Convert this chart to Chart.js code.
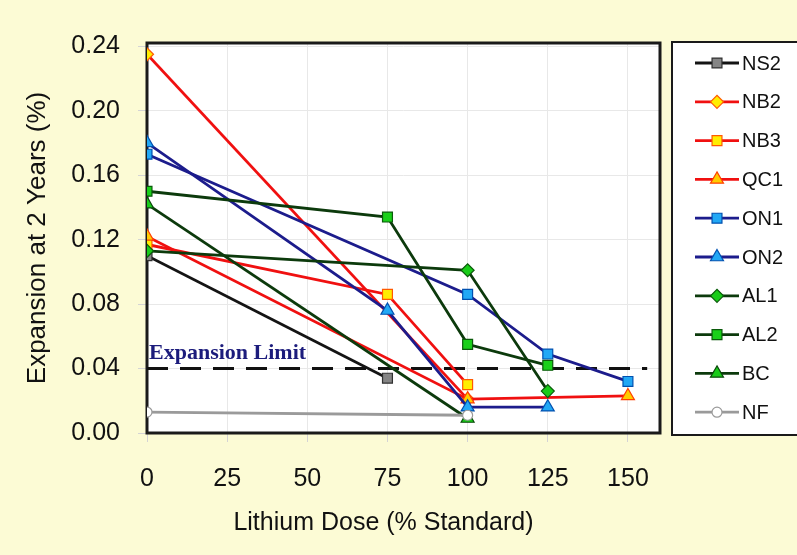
<!DOCTYPE html>
<html>
<head>
<meta charset="utf-8">
<title>Expansion at 2 Years vs Lithium Dose</title>
<script src="https://cdn.jsdelivr.net/npm/chart.js@4/dist/chart.umd.min.js"></script>
<style>
  html, body { margin: 0; padding: 0; background: #fcfbd5; }
</style>
</head>
<body>
<canvas id="myChart" width="797" height="555"></canvas>
<script>
// x tick labels (lithium dose, % of standard) and y ticks (expansion %)
const doseTicks = [0, 25, 50, 75, 100, 125, 150];
const expTicks = [0.00, 0.04, 0.08, 0.12, 0.16, 0.20, 0.24];

// aggregate names, in legend order
const aggregates = ['NS2', 'NB2', 'NB3', 'QC1', 'ON1', 'ON2', 'AL1', 'AL2', 'BC', 'NF'];

// dose tested and 2-year expansion for each aggregate
const doseNS2 = [0, 75];            const expNS2 = [0.110, 0.034];
const doseNB2 = [0, 100];           const expNB2 = [0.235, 0.021];
const doseNB3 = [0, 75, 100];       const expNB3 = [0.117, 0.086, 0.030];
const doseQC1 = [0, 100, 150];      const expQC1 = [0.122, 0.021, 0.023];
const doseON1 = [0, 100, 125, 150]; const expON1 = [0.173, 0.086, 0.049, 0.032];
const doseON2 = [0, 75, 100, 125];  const expON2 = [0.180, 0.076, 0.016, 0.016];
const doseAL1 = [0, 100, 125];      const expAL1 = [0.113, 0.101, 0.026];
const doseAL2 = [0, 75, 100, 125];  const expAL2 = [0.150, 0.134, 0.055, 0.042];
const doseBC = [0, 100];            const expBC = [0.142, 0.009];
const doseNF = [0, 100];            const expNF = [0.013, 0.011];

// expansion limit line
const limitValue = 0.04;
const limitDose = [0, 156];

const doses = [doseNS2, doseNB2, doseNB3, doseQC1, doseON1, doseON2, doseAL1, doseAL2, doseBC, doseNF];
const expansions = [expNS2, expNB2, expNB3, expQC1, expON1, expON2, expAL1, expAL2, expBC, expNF];

// line colour, marker shape, marker fill, marker edge, marker radius
const styles = [
  ['#141414', 'rect',    '#858585', '#303030', 7],
  ['#f01010', 'rectRot', '#ffee00', '#ff5a00', 6.5],
  ['#f01010', 'rect',    '#ffee00', '#ff5a00', 7],
  ['#f01010', 'triangle','#ffcc00', '#ff4000', 7.5],
  ['#1c1c8c', 'rect',    '#22a8f5', '#0050b0', 7],
  ['#1c1c8c', 'triangle','#22a8f5', '#0050b0', 7.5],
  ['#0c3a0c', 'rectRot', '#19cc19', '#0a5a0a', 6.5],
  ['#0c3a0c', 'rect',    '#19d019', '#0a5a0a', 7],
  ['#0c3a0c', 'triangle','#19cc19', '#0a4a0a', 7.5],
  ['#9a9a9a', 'circle',  '#ffffff', '#9a9a9a', 5]
];

const datasets = aggregates.map((name, i) => ({
  label: name,
  data: doses[i].map((d, j) => ({ x: d, y: expansions[i][j] })),
  borderColor: styles[i][0],
  borderWidth: 2.8,
  pointStyle: styles[i][1],
  pointBackgroundColor: styles[i][2],
  pointBorderColor: styles[i][3],
  pointBorderWidth: 1.2,
  pointRadius: styles[i][4],
  pointHoverRadius: styles[i][4],
  tension: 0,
  // later series sit on top, like the spreadsheet chart
  order: aggregates.length - i
}));

const PAGE_BG = '#fcfbd5';
const FONT = '"Liberation Sans", Arial, sans-serif';

// background colours, plot frame, limit line and its label
const decor = {
  id: 'decor',
  beforeDraw(chart) {
    const { ctx, chartArea: a } = chart;
    ctx.save();
    ctx.fillStyle = PAGE_BG;
    ctx.fillRect(0, 0, chart.width, chart.height);
    ctx.fillStyle = '#ffffff';
    ctx.fillRect(a.left, a.top, a.right - a.left, a.bottom - a.top);
    ctx.restore();
  },
  beforeDatasetsDraw(chart) {
    const { ctx, chartArea: a, scales: { x, y } } = chart;
    ctx.save();
    ctx.strokeStyle = '#1a1a1a';
    ctx.lineWidth = 3;
    ctx.strokeRect(a.left, a.top, a.right - a.left, a.bottom - a.top);

    const ly = y.getPixelForValue(limitValue);
    ctx.setLineDash([21, 12]);
    ctx.strokeStyle = '#111111';
    ctx.lineWidth = 3;
    ctx.beginPath();
    ctx.moveTo(x.getPixelForValue(limitDose[0]), ly);
    ctx.lineTo(x.getPixelForValue(limitDose[1]), ly);
    ctx.stroke();
    ctx.setLineDash([]);

    ctx.fillStyle = '#1c1c7c';
    ctx.font = 'bold 22px "Liberation Serif", "Times New Roman", serif';
    ctx.textAlign = 'left';
    ctx.textBaseline = 'alphabetic';
    ctx.fillText('Expansion Limit', x.getPixelForValue(limitDose[0]) + 2, ly - 10);
    ctx.restore();
  },
  afterDraw(chart) {
    const { ctx, scales: { x } } = chart;
    ctx.save();
    // x axis title, centred under the 0-150 range
    ctx.fillStyle = '#111111';
    ctx.font = '25px ' + FONT;
    ctx.textAlign = 'center';
    ctx.textBaseline = 'middle';
    const cx = (x.getPixelForValue(doseTicks[0]) + x.getPixelForValue(doseTicks[doseTicks.length - 1])) / 2;
    ctx.fillText('Lithium Dose (% Standard)', cx - 4, 523);

    // legend box with line + marker samples
    ctx.fillStyle = '#ffffff';
    ctx.fillRect(672, 42, 140, 393);
    ctx.strokeStyle = '#1a1a1a';
    ctx.lineWidth = 2;
    ctx.strokeRect(672, 42, 140, 393);

    chart.data.datasets.forEach((ds, i) => {
      const ly = 63 + i * 38.8;
      ctx.strokeStyle = ds.borderColor;
      ctx.lineWidth = ds.borderWidth;
      ctx.beginPath();
      ctx.moveTo(695, ly);
      ctx.lineTo(739, ly);
      ctx.stroke();

      ctx.fillStyle = ds.pointBackgroundColor;
      ctx.strokeStyle = ds.pointBorderColor;
      ctx.lineWidth = ds.pointBorderWidth;
      Chart.helpers.drawPoint(ctx, {
        pointStyle: ds.pointStyle,
        radius: ds.pointRadius,
        rotation: 0,
        borderWidth: ds.pointBorderWidth
      }, 717, ly);

      ctx.fillStyle = '#111111';
      ctx.font = '20px ' + FONT;
      ctx.textAlign = 'left';
      ctx.textBaseline = 'middle';
      ctx.fillText(ds.label, 742, ly + 1);
    });
    ctx.restore();
  }
};

const myChart = new Chart(document.getElementById('myChart'), {
  type: 'line',
  data: { datasets: datasets },
  plugins: [decor],
  options: {
    responsive: false,
    animation: false,
    devicePixelRatio: 1,
    layout: { padding: { top: 43, right: 137, left: 0, bottom: 0 } },
    plugins: {
      legend: { display: false },
      tooltip: { enabled: false }
    },
    scales: {
      x: {
        type: 'linear',
        min: 0,
        max: 160,
        border: { display: false },
        grid: { color: '#e8e8e8', lineWidth: 1, tickLength: 9, tickColor: '#d4d4d4' },
        ticks: {
          stepSize: 25,
          padding: 22,
          color: '#111111',
          font: { family: FONT, size: 25 }
        },
        afterBuildTicks(scale) {
          scale.ticks = doseTicks.map(v => ({ value: v }));
        },
        afterFit(scale) { scale.height = 122; }
      },
      y: {
        type: 'linear',
        min: 0,
        max: 0.242,
        border: { display: false },
        grid: { color: '#e8e8e8', lineWidth: 1, tickLength: 9, tickColor: '#d4d4d4' },
        ticks: {
          stepSize: 0.04,
          padding: 18,
          color: '#111111',
          font: { family: FONT, size: 25 },
          callback: v => Number(v).toFixed(2)
        },
        afterBuildTicks(scale) {
          scale.ticks = expTicks.map(v => ({ value: v }));
        },
        title: {
          display: true,
          text: 'Expansion at 2 Years (%)',
          color: '#111111',
          font: { family: FONT, size: 26 },
          padding: { top: 22, bottom: 0 }
        },
        afterFit(scale) { scale.width = 147; }
      }
    }
  }
});
</script>
</body>
</html>
